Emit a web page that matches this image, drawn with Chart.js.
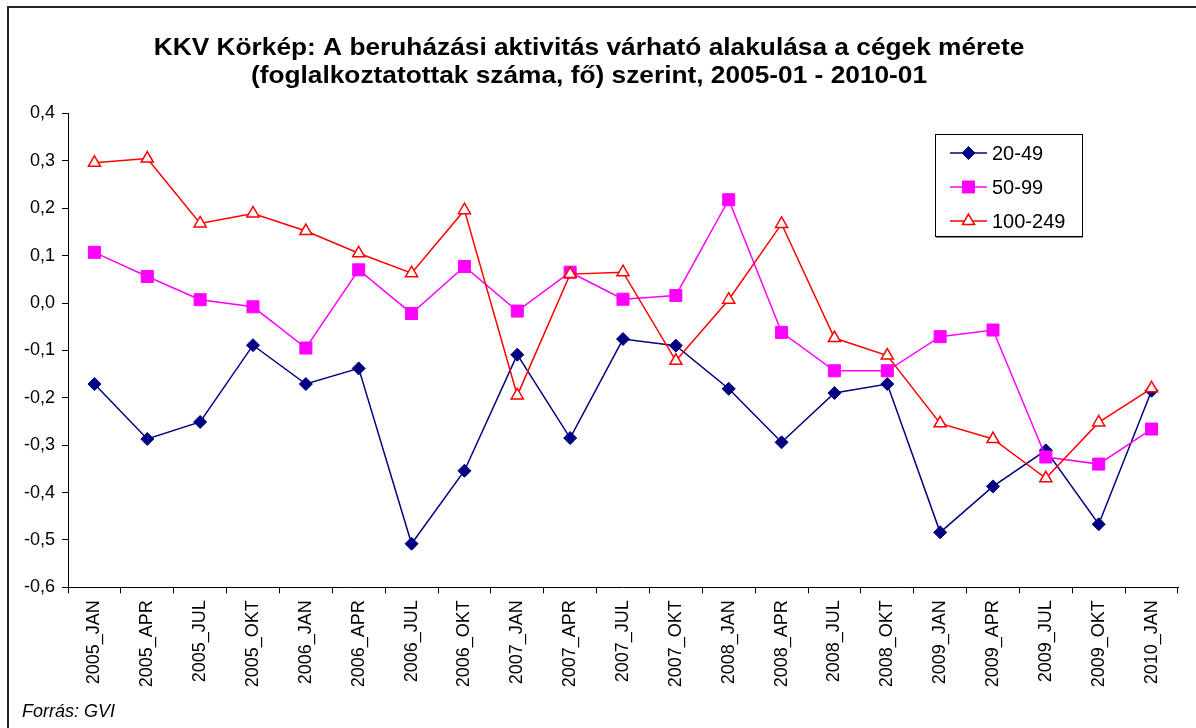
<!DOCTYPE html>
<html>
<head>
<meta charset="utf-8">
<script src="https://cdn.jsdelivr.net/npm/chart.js@4/dist/chart.umd.min.js"></script>
<style>
  html, body { margin: 0; padding: 0; background: #fff; }
  #wrap { position: relative; width: 1196px; height: 728px; }
</style>
</head>
<body>
<div id="wrap"><canvas id="c" width="1196" height="728"></canvas></div>
<script>
// Survey periods (quarterly)
const categories = [
  '2005_JAN', '2005_APR', '2005_JUL', '2005_OKT',
  '2006_JAN', '2006_APR', '2006_JUL', '2006_OKT',
  '2007_JAN', '2007_APR', '2007_JUL', '2007_OKT',
  '2008_JAN', '2008_APR', '2008_JUL', '2008_OKT',
  '2009_JAN', '2009_APR', '2009_JUL', '2009_OKT',
  '2010_JAN'
];

// Expected investment activity balance by company size (employees)
const s20_49 = [-0.171, -0.287, -0.251, -0.089, -0.171, -0.138, -0.508, -0.354, -0.109, -0.285, -0.076,
                -0.090, -0.181, -0.294, -0.190, -0.171, -0.484, -0.387, -0.311, -0.467, -0.185];
const s50_99 = [0.107, 0.056, 0.007, -0.008, -0.095, 0.070, -0.022, 0.077, -0.017, 0.065, 0.008,
                0.016, 0.218, -0.062, -0.143, -0.143, -0.071, -0.057, -0.325, -0.340, -0.266];
const s100_249 = [0.296, 0.305, 0.168, 0.189, 0.152, 0.105, 0.063, 0.196, -0.195, 0.061, 0.065,
                  -0.122, 0.007, 0.167, -0.074, -0.111, -0.254, -0.287, -0.370, -0.252, -0.180];

const seriesNames = ['20-49', '50-99', '100-249'];
const yTicks = [0.4, 0.3, 0.2, 0.1, 0.0, -0.1, -0.2, -0.3, -0.4, -0.5, -0.6];

const titleLines = [
  'KKV Körkép: A beruházási aktivitás várható alakulása a cégek mérete',
  '(foglalkoztatottak száma, fő) szerint, 2005-01 - 2010-01'
];
const sourceNote = 'Forrás: GVI';

const FONT = "'Liberation Sans', Arial, Helvetica, sans-serif";
Chart.defaults.font.family = FONT;
Chart.defaults.color = '#000';

function fmt(v) {
  if (Math.abs(v) < 1e-9) v = 0;
  return v.toFixed(1).replace('.', ',');
}

// Draws a marker shape the same way for the legend swatches
function drawMarker(ctx, style, x, y, r, fill, stroke, lw) {
  ctx.save();
  ctx.beginPath();
  if (style === 'rectRot') {
    ctx.moveTo(x - r, y); ctx.lineTo(x, y - r); ctx.lineTo(x + r, y); ctx.lineTo(x, y + r);
  } else if (style === 'rect') {
    const s = Math.SQRT1_2 * r;
    ctx.rect(x - s, y - s, 2 * s, 2 * s);
  } else if (style === 'triangle') {
    let a = 0;
    ctx.moveTo(x + Math.sin(a) * r, y - Math.cos(a) * r);
    a += 2 * Math.PI / 3;
    ctx.lineTo(x + Math.sin(a) * r, y - Math.cos(a) * r);
    a += 2 * Math.PI / 3;
    ctx.lineTo(x + Math.sin(a) * r, y - Math.cos(a) * r);
  }
  ctx.closePath();
  ctx.fillStyle = fill;
  ctx.fill();
  ctx.lineWidth = lw;
  ctx.strokeStyle = stroke;
  ctx.stroke();
  ctx.restore();
}

// Frame, title, legend box and source note
const decorations = {
  id: 'decorations',
  afterDraw(chart) {
    const ctx = chart.ctx;
    ctx.save();

    // outer frame (top and left edges)
    ctx.strokeStyle = '#222';
    ctx.lineWidth = 2;
    ctx.beginPath();
    ctx.moveTo(8, 728);
    ctx.lineTo(8, 7);
    ctx.lineTo(1196, 7);
    ctx.stroke();

    // title
    ctx.fillStyle = '#000';
    ctx.textAlign = 'center';
    ctx.textBaseline = 'alphabetic';
    ctx.font = 'bold 24px ' + FONT;
    const baselines = [55, 83];
    titleLines.forEach((t, i) => {
      ctx.save();
      ctx.translate(589, baselines[i]);
      ctx.scale(1.095, 1);
      ctx.fillText(t, 0, 0);
      ctx.restore();
    });

    // legend
    const bx = 935, by = 134, bw = 147, bh = 102;
    ctx.fillStyle = '#fff';
    ctx.fillRect(bx, by, bw, bh);
    ctx.strokeStyle = '#000';
    ctx.lineWidth = 1;
    ctx.strokeRect(bx + 0.5, by + 0.5, bw, bh);
    ctx.strokeStyle = '#888';
    ctx.beginPath();
    ctx.moveTo(bx + 1, by + bh + 1.5);
    ctx.lineTo(bx + bw + 1, by + bh + 1.5);
    ctx.stroke();

    ctx.font = '20px ' + FONT;
    ctx.textAlign = 'left';
    ctx.textBaseline = 'middle';
    const rows = [153, 187, 221];
    chart.data.datasets.forEach((ds, i) => {
      const y = rows[i];
      ctx.strokeStyle = ds.borderColor;
      ctx.lineWidth = ds.borderWidth;
      ctx.beginPath();
      ctx.moveTo(950, y);
      ctx.lineTo(987, y);
      ctx.stroke();
      drawMarker(ctx, ds.pointStyle, 968.5, y, ds.pointRadius,
                 ds.pointBackgroundColor, ds.pointBorderColor, ds.pointBorderWidth);
      ctx.fillStyle = '#000';
      ctx.fillText(ds.label, 992, y + 1);
    });

    // source note
    ctx.font = 'italic 18px ' + FONT;
    ctx.textBaseline = 'alphabetic';
    ctx.fillStyle = '#000';
    ctx.fillText(sourceNote, 22, 717);

    ctx.restore();
  }
};

new Chart(document.getElementById('c'), {
  type: 'line',
  data: {
    labels: categories,
    datasets: [
      {
        label: seriesNames[0],
        data: s20_49,
        order: 3,
        borderColor: '#000080',
        backgroundColor: '#000080',
        borderWidth: 1.5,
        pointStyle: 'rectRot',
        pointRadius: 6.5,
        pointBackgroundColor: '#000080',
        pointBorderColor: '#000080',
        pointBorderWidth: 1,
        tension: 0
      },
      {
        label: seriesNames[1],
        data: s50_99,
        order: 2,
        borderColor: '#FF00FF',
        backgroundColor: '#FF00FF',
        borderWidth: 1.5,
        pointStyle: 'rect',
        pointRadius: 8.5,
        pointBackgroundColor: '#FF00FF',
        pointBorderColor: '#FF00FF',
        pointBorderWidth: 1,
        tension: 0
      },
      {
        label: seriesNames[2],
        data: s100_249,
        order: 1,
        borderColor: '#FF0000',
        backgroundColor: '#FFFFFF',
        borderWidth: 1.5,
        pointStyle: 'triangle',
        pointRadius: 7,
        pointBackgroundColor: '#FFFFFF',
        pointBorderColor: '#FF0000',
        pointBorderWidth: 1.5,
        tension: 0
      }
    ]
  },
  options: {
    responsive: false,
    animation: false,
    events: [],
    layout: { padding: { top: 113.5, left: 6, right: 18, bottom: 0 } },
    plugins: {
      legend: { display: false },
      title: { display: false },
      tooltip: { enabled: false }
    },
    scales: {
      x: {
        offset: true,
        grid: { offset: true, drawOnChartArea: false, drawTicks: true, tickLength: 6, color: '#000', lineWidth: 1 },
        border: { display: true, color: '#000', width: 1 },
        ticks: {
          autoSkip: false, minRotation: 90, maxRotation: 90, padding: 7,
          color: '#000', font: { size: 18, family: FONT }
        },
        afterFit(scale) { scale.height = 728 - 587.3; }
      },
      y: {
        min: -0.6,
        max: 0.4,
        afterBuildTicks(scale) { scale.ticks = yTicks.map(v => ({ value: v })); },
        afterFit(scale) { scale.width = 62; },
        grid: { drawOnChartArea: false, drawTicks: true, tickLength: 6, color: '#000', lineWidth: 1 },
        border: { display: true, color: '#000', width: 1 },
        ticks: {
          padding: 7, color: '#000', font: { size: 18, family: FONT },
          callback: (v) => fmt(v)
        }
      }
    }
  },
  plugins: [decorations]
});
</script>
</body>
</html>
